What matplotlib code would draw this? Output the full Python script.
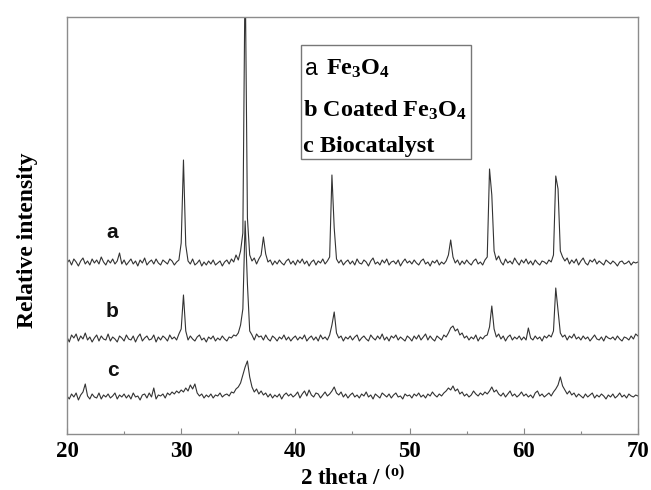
import numpy as np
import matplotlib
matplotlib.use("Agg")
import matplotlib.pyplot as plt
from matplotlib.patches import Rectangle

plt.rcParams['mathtext.fontset'] = 'custom'
plt.rcParams['mathtext.rm'] = 'Liberation Serif:bold'
plt.rcParams['mathtext.it'] = 'Liberation Serif:bold'
plt.rcParams['mathtext.bf'] = 'Liberation Serif:bold'
plt.rcParams['mathtext.default'] = 'rm'

# 2-theta grid, 0.2 degree step from 20 to 70
two_theta = np.round(np.arange(20.0, 70.0001, 0.2), 1)

# intensities (arbitrary units), one row = 5 degrees
trace_a = [
    0, 3, -2, 4, 1, -3, 2, 5, -1, 2, -2, 4, 0, 3, -1, 6, 1, -2, 3, 0, 4, -1, 2, 10, -1,
    3, -2, 1, 4, -1, 2, -3, 3, 0, 5, -2, 1, 3, -1, 4, 0, -2, 3, 1, -1, 4, 2, -2, 1, 3,
    20, 103, 18, 2, -1, 4, -2, 0, 3, -3, 1, -2, 2, -1, 3, -2, 0, 2, -3, 1, 3, -1, 4, 1, 8,
    3, 12, 30, 300, 45, 8, 2, 5, -1, 4, 8, 26, 9, 1, 3, -2, 2, -1, 3, 0, -2, 2, 4, -1, 2,
    -2, 3, 0, 4, -1, 2, -3, 1, 3, -2, 2, 0, 4, -1, 2, 6, 88, 35, 4, 0, 3, -2, 1, 3, -1,
    2, -2, 4, 0, -1, 3, 1, -3, 2, 5, -1, 1, -2, 3, 0, 4, -2, 1, 2, -1, 3, -3, 1, 4, 0,
    2, -1, 3, 0, -2, 2, 4, -1, 1, -3, 2, 0, 3, -2, 1, -1, 2, 8, 23, 6, 0, 3, -2, 2, -1,
    3, 0, -2, 2, 4, -1, 1, -2, 3, 6, 94, 68, 12, 3, 7, 1, -2, 4, 0, 2, -1, 5, 1, -2, 3,
    0, 4, -1, 2, -2, 3, 0, -2, 2, 1, -1, 3, 1, 8, 87, 74, 12, 6, 2, 5, -1, 3, 0, 4, -2,
    2, 5, 0, -2, 3, 1, 4, -1, 2, 0, -2, 3, 1, -1, 2, 0, -3, 1, 2, -1, 0, 2, -2, 1, 0,
    1,
]
trace_b = [
    2, -3, 4, 1, 5, -2, 3, 0, 6, -1, 2, -3, 1, 4, -2, 3, 0, -1, 5, -2, 2, 0, -3, 3, 1,
    -2, 4, 0, -1, 3, -3, 2, 5, -2, 1, 3, -1, 0, 4, -3, 2, -1, 3, 1, -2, 4, 0, 2, -1, 5,
    10, 44, 8, -1, 3, 0, -2, 2, 4, -1, 1, -3, 2, 0, 3, -2, 1, -1, 3, 0, -2, 2, 1, 4, 3,
    6, 14, 30, 118, 55, 8, 4, -1, 5, 2, 3, -1, 4, 0, -2, 3, 1, -2, 2, 0, 4, -1, 2, -2, 1,
    3, -1, 2, 0, 4, -2, 1, 3, -1, 2, -2, 4, 0, 2, -1, 4, 14, 27, 6, 1, 3, -2, 2, 0, 3,
    -1, 2, 4, -2, 1, 3, 0, -2, 4, 1, -1, 3, 0, 5, -1, 2, -2, 3, 1, 4, -1, 2, 0, -2, 3,
    1, -2, 3, 0, 4, -1, 2, 5, -1, 3, 0, -2, 3, 1, -1, 4, 2, 6, 11, 13, 8, 10, 4, 6, 1,
    3, -1, 2, 0, 4, -2, 2, 0, 3, 4, 12, 33, 10, 2, 5, 0, 3, -2, 2, 4, -1, 2, 0, 3, -1,
    2, -1, 11, 1, -1, 3, 0, 2, -2, 3, 1, 4, 2, 8, 51, 28, 6, 2, 4, -1, 3, 1, 5, 0, 2,
    -1, 3, 0, 2, -2, 1, 4, 0, -1, 2, -2, 3, 1, 0, 2, -1, 3, 0, -2, 2, 1, -1, 3, 0, 5,
    3,
]
trace_c = [
    1, -2, 3, 0, 4, -3, 2, 5, 13, 1, -2, 3, 0, -1, 4, -2, 2, 0, 3, -1, 1, 4, -2, 2, 0,
    3, -1, 2, -2, 4, 0, 1, -3, 2, 3, -1, 4, 0, 9, -2, 2, 1, 3, -1, 4, 2, 5, 3, 6, 4,
    7, 5, 9, 6, 12, 8, 13, 4, 1, 3, -1, 2, 0, 3, -1, 2, 1, 4, 0, 2, 3, 1, 5, 4, 8,
    10, 14, 22, 30, 36, 20, 10, 5, 8, 3, 6, 2, 4, 0, 3, -1, 2, 0, 3, -2, 2, 4, 1, 3, 0,
    2, 5, -1, 3, 6, 1, 7, 2, 0, 4, 3, -1, 2, 5, 1, 3, 6, 10, 4, 2, 5, 0, 3, -1, 2,
    4, 0, 2, -1, 3, 1, 5, 0, 2, -2, 3, 1, -1, 4, 2, 0, 3, -1, 2, 4, 0, 1, -2, 3, 1,
    2, -1, 3, 1, 4, 0, 2, -1, 3, 1, 5, 2, 0, 3, 1, 4, 6, 9, 7, 11, 6, 8, 3, 5, 1,
    3, 0, 2, 6, 3, 1, 4, 2, 5, 3, 6, 10, 5, 7, 3, 1, 4, 0, 3, 6, 1, 3, 0, 2, 5,
    1, 3, 0, 2, -1, 4, 6, 1, 3, 0, 2, 4, 1, 5, 8, 12, 20, 11, 7, 3, 6, 2, 4, 0, 3,
    1, -1, 3, 0, 2, 4, -1, 2, 0, 3, 1, -2, 2, 0, 3, -1, 1, 4, 0, 2, -1, 3, 1, 0, 2,
    1,
]
trace_names = ["a", "b", "c"]
legend_lines = ["Fe$_3$O$_4$", "b Coated Fe$_3$O$_4$", "c Biocatalyst"]
x_ticks = [20, 30, 40, 50, 60, 70]

offsets = {"a": 171, "b": 95, "c": 37}
label_pos = {"a": (24.0, 201), "b": (23.9, 122), "c": (24.0, 63)}

fig = plt.figure(figsize=(6.51, 4.90), dpi=100)
ax = fig.add_axes([0.1029, 0.1143, 0.8771, 0.851])

serif = 'Liberation Serif'
sans = 'Liberation Sans'
line_col = '#333333'
for name, tr in zip(trace_names, [trace_a, trace_b, trace_c]):
    y = np.array(tr, dtype=float) + offsets[name]
    ax.plot(two_theta, y, color=line_col, lw=0.8)
    lx, ly = label_pos[name]
    ax.text(lx, ly, name, fontsize=15, fontweight='bold', family=sans,
            ha='center', va='center', color='#111111')

ax.set_xlim(20, 70)
ax.set_ylim(0, 417)
ax.set_yticks([])
ax.set_xticks(x_ticks)
ax.set_xticks([25, 35, 45, 55, 65], minor=True)
ax.tick_params(axis='x', which='both', direction='in', colors='#888888',
               labelcolor='black', length=4, width=0.8, pad=5)
ax.tick_params(axis='x', which='minor', length=2)
for lab in ax.get_xticklabels():
    lab.set_fontfamily(serif)
    lab.set_fontweight('bold')
    lab.set_fontsize(16.5)
for sp in ax.spines.values():
    sp.set_color('#8c8c8c')
    sp.set_linewidth(1.0)

ax.set_xlabel("2 theta / $^{(\\mathrm{o})}$", fontsize=16.5, fontweight='bold',
              family=serif, labelpad=3)
ax.set_ylabel("Relative intensity", fontsize=17, fontweight='bold',
              family=serif)
ax.yaxis.set_label_coords(-0.051, 0.465)

# legend box
box = Rectangle((0.41, 0.659), 0.2975, 0.274, transform=ax.transAxes,
                fill=False, edgecolor='#777777', lw=1.0)
ax.add_patch(box)
fs_leg = 17.5
ax.text(0.4165, 0.861, "a", transform=ax.transAxes, fontsize=fs_leg - 1,
        family=sans, ha='left', va='baseline')
ax.text(0.4540, 0.861, legend_lines[0], transform=ax.transAxes, fontsize=fs_leg,
        family=serif, fontweight='bold', ha='left', va='baseline')
ax.text(0.4125, 0.760, legend_lines[1], transform=ax.transAxes, fontsize=fs_leg,
        family=serif, fontweight='bold', ha='left', va='baseline')
ax.text(0.4125, 0.676, legend_lines[2], transform=ax.transAxes, fontsize=fs_leg,
        family=serif, fontweight='bold', ha='left', va='baseline')

fig.savefig("out.png", dpi=100)
